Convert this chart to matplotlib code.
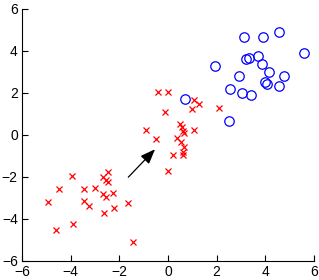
import matplotlib
matplotlib.use('Agg')
import matplotlib.pyplot as plt

# class 1 (red crosses)
red_x = [-3.96, -2.45, -2.69, -2.53, -2.47, -4.47, -3.44, -3.0, -2.66, -2.55,
         -2.25, -4.95, -3.47, -3.23, -1.63, -2.21, -2.62, -3.92, -4.6, -1.42,
         -0.41, 0.01, 1.08, 1.27, 1.0, 2.1, -0.12, 0.48, 0.59, 0.61,
         0.64, -0.92, 1.08, -0.5, 0.36, 0.52, 0.68, 0.6, 0.22, 0.61, 0.0]
red_y = [-1.94, -1.75, -2.0, -2.14, -2.25, -2.59, -2.56, -2.52, -2.79, -2.95,
         -2.78, -3.2, -3.13, -3.37, -3.25, -3.49, -3.73, -4.24, -4.52, -5.08,
         2.06, 2.06, 1.67, 1.46, 1.22, 1.3, 1.08, 0.52, 0.37, 0.21,
         0.08, 0.24, 0.24, -0.19, -0.16, -0.32, -0.57, -0.79, -0.95, -0.95, -1.73]

# class 2 (blue circles)
blue_x = [3.11, 3.91, 4.58, 5.59, 1.95, 3.22, 3.35, 3.7, 3.87, 4.14,
          4.78, 2.94, 4.0, 4.06, 4.55, 2.57, 3.05, 3.41, 2.49, 0.70]
blue_y = [4.68, 4.65, 4.89, 3.92, 3.3, 3.6, 3.68, 3.76, 3.38, 2.98,
          2.81, 2.81, 2.54, 2.43, 2.35, 2.19, 1.98, 1.89, 0.68, 1.71]

arrow_start = (-1.63, -2.01)
arrow_end = (-0.53, -0.68)
ticks = [-6, -4, -2, 0, 2, 4, 6]

plt.rcParams['font.family'] = ['Liberation Sans', 'DejaVu Sans']

fig = plt.figure(figsize=(3.19, 2.80), dpi=100)
ax = fig.add_axes([0.069, 0.068, 0.915, 0.90])

ax.plot(red_x, red_y, 'x', color='#ff0000', markersize=5, markeredgewidth=0.9)
ax.plot(blue_x, blue_y, 'o', markerfacecolor='none', markeredgecolor='#0000ff',
        markersize=6.8, markeredgewidth=0.9)

ax.annotate('', xy=arrow_end, xytext=arrow_start,
            arrowprops=dict(arrowstyle='-|>,head_length=0.9,head_width=0.35',
                            color='black', lw=0.9, shrinkA=0, shrinkB=0))

ax.set_xlim(-6, 6)
ax.set_ylim(-6, 6)
ax.set_xticks(ticks)
ax.set_yticks(ticks)
ax.spines['top'].set_visible(False)
ax.spines['right'].set_visible(False)
ax.tick_params(direction='in', length=4, labelsize=10, width=0.8, pad=3)

plt.savefig('out.png', dpi=100)
